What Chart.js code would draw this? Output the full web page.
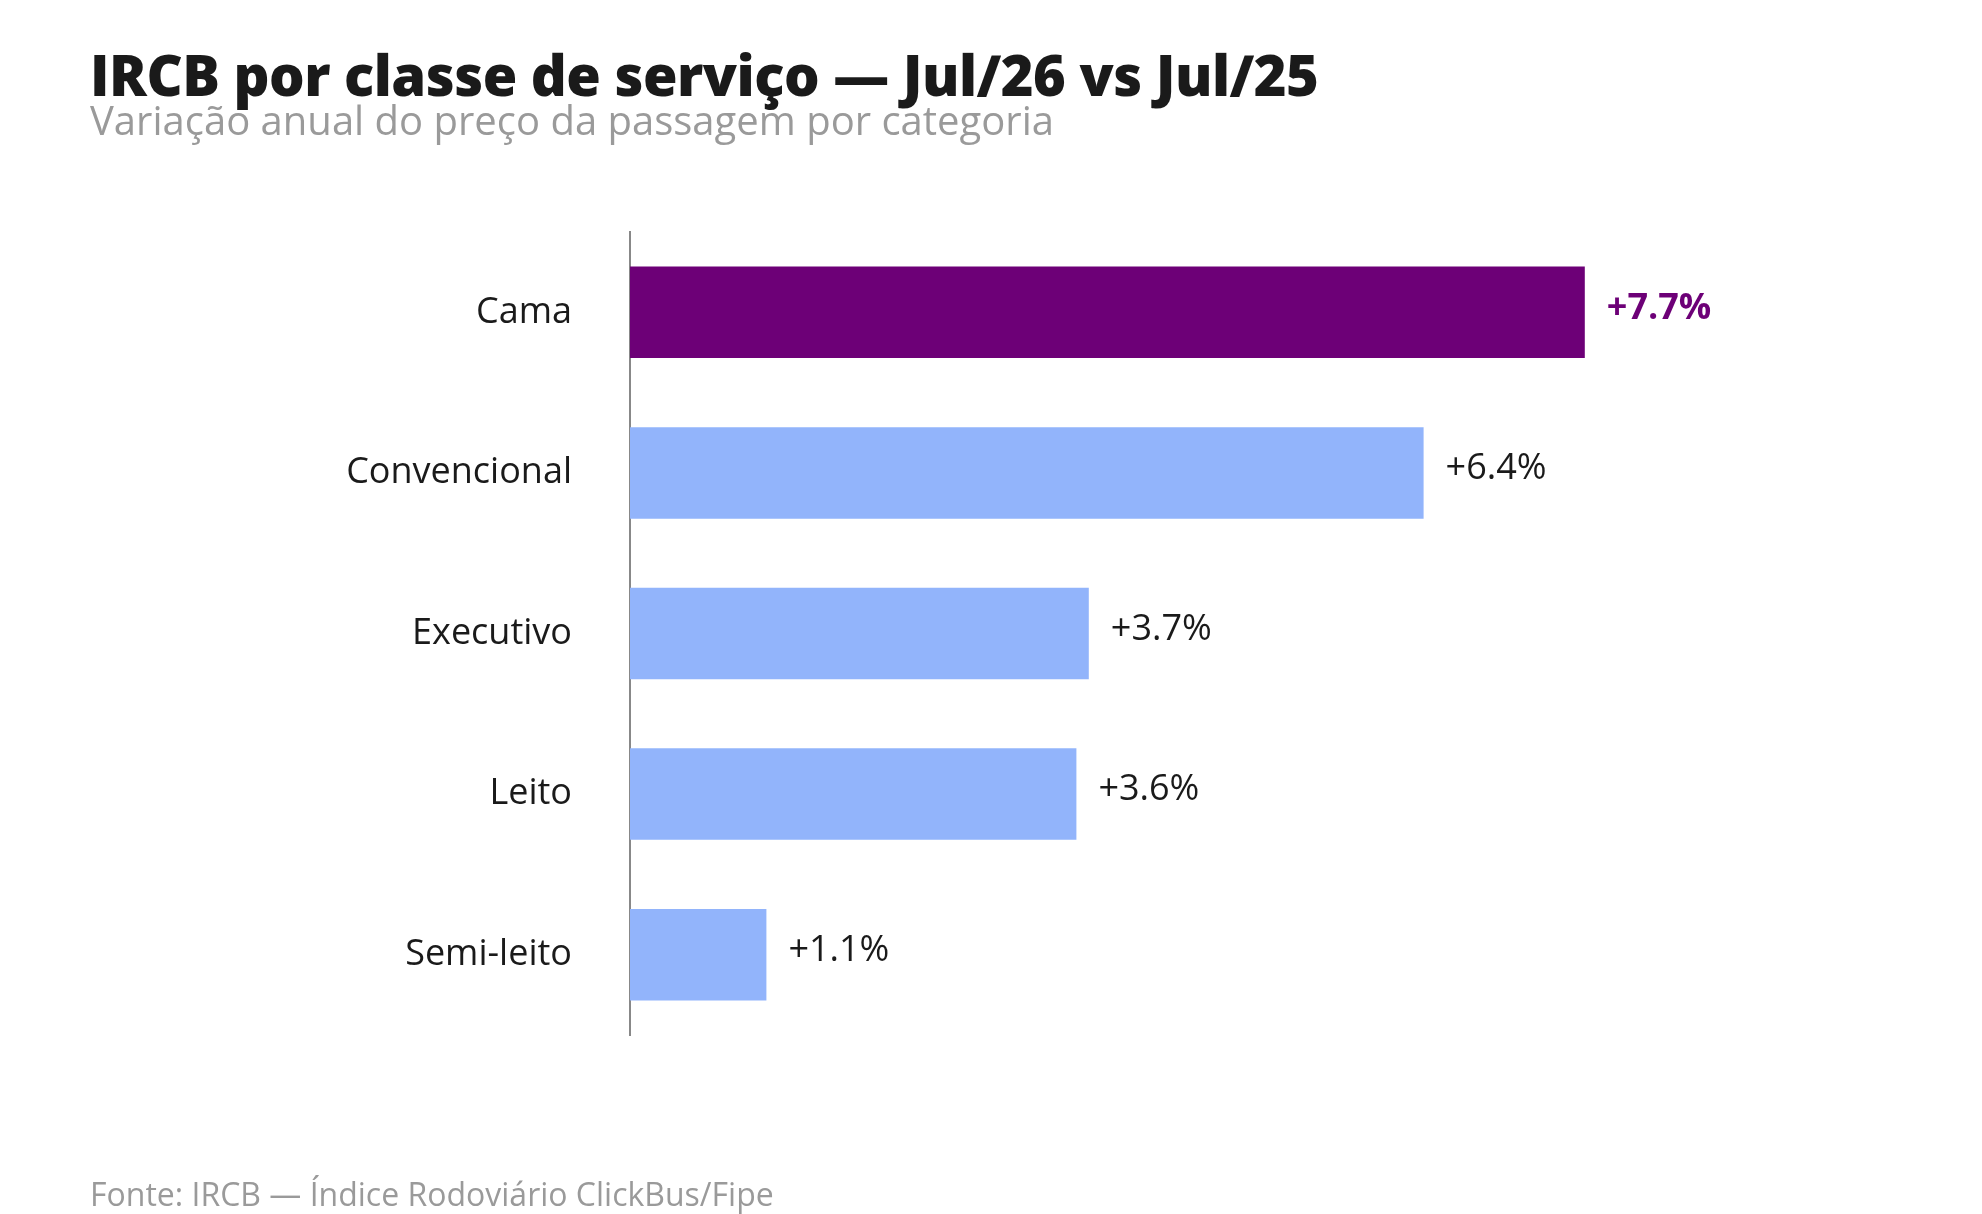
<!DOCTYPE html>
<html><head><meta charset="utf-8">
<script src="https://cdn.jsdelivr.net/npm/chart.js@4"></script>
<style>
html,body{margin:0;padding:0;background:#fff;width:1982px;height:1214px;overflow:hidden;font-family:"Open Sans",sans-serif;}
#t{position:absolute;left:90px;top:36px;font-size:56px;font-weight:800;color:#1a1a1a;letter-spacing:-0.5px;}
#s{position:absolute;left:90px;top:92px;font-size:40px;color:#9a9a9a;}
#f{position:absolute;left:90px;top:1172px;font-size:32px;color:#9a9a9a;}
#w{position:absolute;left:0;top:0;width:1982px;height:1214px;}
</style></head><body>
<div id="w"><canvas id="c"></canvas></div>
<div id="t">IRCB por classe de serviço — Jul/26 vs Jul/25</div>
<div id="s">Variação anual do preço da passagem por categoria</div>
<div id="f">Fonte: IRCB — Índice Rodoviário ClickBus/Fipe</div>
<script>
const categories=["Cama","Convencional","Executivo","Leito","Semi-leito"];
const values=[7.7,6.4,3.7,3.6,1.1];
const colors=["#6d0077","#92b4fb","#92b4fb","#92b4fb","#92b4fb"];
const labelColors=["#6d0077","#1a1a1a","#1a1a1a","#1a1a1a","#1a1a1a"];
const valLabels={id:'vl',afterDatasetsDraw(ch){const ctx=ch.ctx;const m=ch.getDatasetMeta(0);
ctx.save();ctx.textBaseline='middle';
m.data.forEach((b,i)=>{ctx.font=(i===0?'700 ':'500 ')+'36px "Open Sans"';ctx.fillStyle=labelColors[i];
ctx.fillText('+'+values[i].toFixed(1)+'%',b.x+22,b.y-4);});ctx.restore();}};
new Chart(document.getElementById('c'),{type:'bar',
data:{labels:categories,datasets:[{data:values,backgroundColor:colors,barPercentage:0.57,categoryPercentage:1}]},
options:{indexAxis:'y',responsive:true,maintainAspectRatio:false,animation:false,
layout:{padding:{left:0,top:232,bottom:179,right:112}},
plugins:{legend:{display:false},tooltip:{enabled:false}},
scales:{x:{display:false,min:0,max:10},
y:{afterFit(s){s.width=630;},grid:{display:false,drawTicks:false},border:{display:true,color:'#888',width:2},
ticks:{padding:58,color:'#1a1a1a',font:{size:36,family:'"Open Sans"'}}}}},
plugins:[valLabels]});
</script></body></html>
